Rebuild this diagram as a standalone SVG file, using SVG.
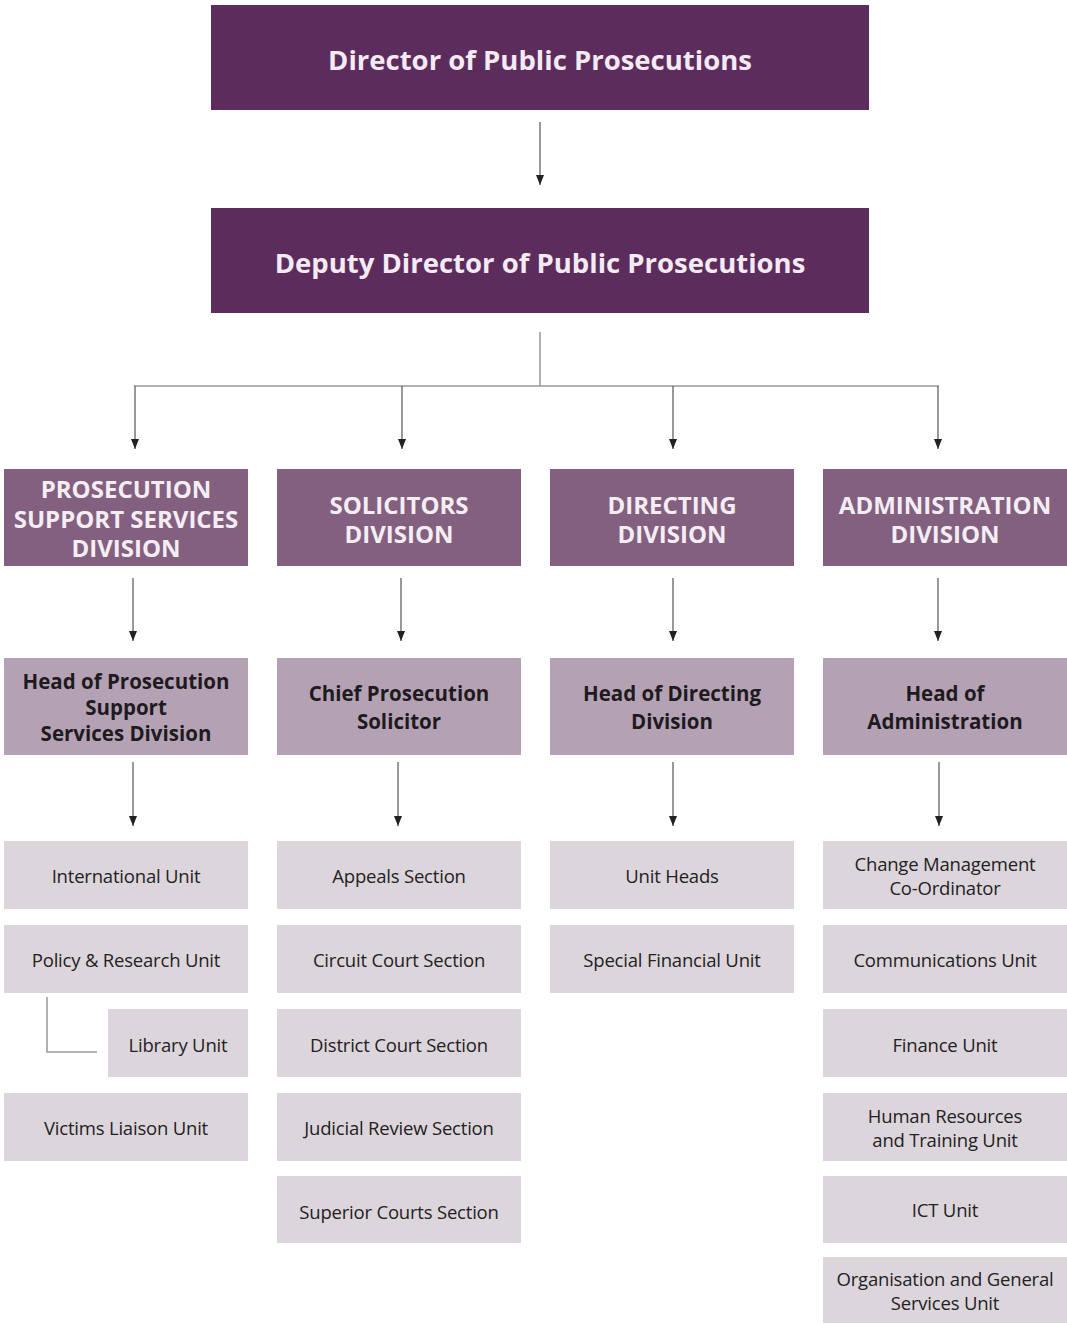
<svg xmlns="http://www.w3.org/2000/svg" width="1067" height="1324" viewBox="0 0 1067 1324">
<style>
.top{fill:#5c2d5c}
.div{fill:#83607f}
.head{fill:#b4a2b4}
.unit{fill:#ddd5dc}
.t1{font-family:"Open Sans","Noto Sans",sans-serif;font-weight:700;font-size:27.5px;fill:#f4eaf4;text-anchor:middle;dominant-baseline:central}
.t2{font-family:"Open Sans","Noto Sans",sans-serif;font-weight:700;font-size:24px;fill:#f4eef4;text-anchor:middle;dominant-baseline:central}
.t3{font-family:"Open Sans","Noto Sans",sans-serif;font-weight:700;font-size:20.5px;fill:#1e1a1e;text-anchor:middle;dominant-baseline:central}
.t4{font-family:"Open Sans","Noto Sans",sans-serif;font-weight:400;font-size:18.5px;fill:#222;text-anchor:middle;dominant-baseline:central;letter-spacing:-0.2px}
.ln{stroke:#555;stroke-width:1.2;fill:none}
.lg{stroke:#999;stroke-width:1.5;fill:none}
</style>
<defs>
<marker id="ah" markerWidth="10" markerHeight="8" refX="10" refY="4" orient="auto" markerUnits="userSpaceOnUse" viewBox="0 0 10 8">
<path d="M0,0 L10,4 L0,8 Z" fill="#222"/>
</marker>
</defs>
<rect width="1067" height="1324" fill="#fff"/>
<g id="connectors">
<line class="ln" x1="540" y1="122" x2="540" y2="185" marker-end="url(#ah)"/>
<line class="lg" x1="540" y1="332" x2="540" y2="386"/>
<line class="lg" x1="134" y1="386" x2="939" y2="386"/>
<line class="ln" x1="135" y1="386" x2="135" y2="449" marker-end="url(#ah)"/>
<line class="ln" x1="402" y1="386" x2="402" y2="449" marker-end="url(#ah)"/>
<line class="ln" x1="673" y1="386" x2="673" y2="449" marker-end="url(#ah)"/>
<line class="ln" x1="938" y1="386" x2="938" y2="449" marker-end="url(#ah)"/>
<line class="ln" x1="133" y1="578" x2="133" y2="641" marker-end="url(#ah)"/>
<line class="ln" x1="401" y1="578" x2="401" y2="641" marker-end="url(#ah)"/>
<line class="ln" x1="673" y1="578" x2="673" y2="641" marker-end="url(#ah)"/>
<line class="ln" x1="938" y1="578" x2="938" y2="641" marker-end="url(#ah)"/>
<line class="ln" x1="133" y1="762" x2="133" y2="826" marker-end="url(#ah)"/>
<line class="ln" x1="398" y1="762" x2="398" y2="826" marker-end="url(#ah)"/>
<line class="ln" x1="673" y1="762" x2="673" y2="826" marker-end="url(#ah)"/>
<line class="ln" x1="939" y1="762" x2="939" y2="826" marker-end="url(#ah)"/>
<polyline class="lg" points="47,997 47,1052 97,1052"/>
</g>
<g id="dpp"><rect class="top" x="211" y="5" width="658" height="105"/><text class="t1" x="540" y="59">Director of Public Prosecutions</text></g>
<g id="ddpp"><rect class="top" x="211" y="208" width="658" height="105"/><text class="t1" x="540" y="262">Deputy Director of Public Prosecutions</text></g>

<g id="pssd"><rect class="div" x="4" y="469" width="244" height="97"/><text class="t2" x="126" y="488">PROSECUTION</text><text class="t2" x="126" y="518">SUPPORT SERVICES</text><text class="t2" x="126" y="547">DIVISION</text></g>
<g id="sold"><rect class="div" x="277" y="469" width="244" height="97"/><text class="t2" x="399" y="504">SOLICITORS</text><text class="t2" x="399" y="533">DIVISION</text></g>
<g id="dird"><rect class="div" x="550" y="469" width="244" height="97"/><text class="t2" x="672" y="504">DIRECTING</text><text class="t2" x="672" y="533">DIVISION</text></g>
<g id="admd"><rect class="div" x="823" y="469" width="244" height="97"/><text class="t2" x="945" y="504">ADMINISTRATION</text><text class="t2" x="945" y="533">DIVISION</text></g>

<g id="hpssd"><rect class="head" x="4" y="658" width="244" height="97"/><text class="t3" x="126" y="681">Head of Prosecution</text><text class="t3" x="126" y="707">Support</text><text class="t3" x="126" y="733">Services Division</text></g>
<g id="cps"><rect class="head" x="277" y="658" width="244" height="97"/><text class="t3" x="399" y="693">Chief Prosecution</text><text class="t3" x="399" y="721">Solicitor</text></g>
<g id="hdd"><rect class="head" x="550" y="658" width="244" height="97"/><text class="t3" x="672" y="693">Head of Directing</text><text class="t3" x="672" y="721">Division</text></g>
<g id="ha"><rect class="head" x="823" y="658" width="244" height="97"/><text class="t3" x="945" y="693">Head of</text><text class="t3" x="945" y="721">Administration</text></g>

<g id="iu"><rect class="unit" x="4" y="841" width="244" height="68"/><text class="t4" x="126" y="875">International Unit</text></g>
<g id="pru"><rect class="unit" x="4" y="925" width="244" height="68"/><text class="t4" x="126" y="959">Policy &amp; Research Unit</text></g>
<g id="lu"><rect class="unit" x="108" y="1009" width="140" height="68"/><text class="t4" x="178" y="1044">Library Unit</text></g>
<g id="vlu"><rect class="unit" x="4" y="1093" width="244" height="68"/><text class="t4" x="126" y="1127">Victims Liaison Unit</text></g>

<g id="as"><rect class="unit" x="277" y="841" width="244" height="68"/><text class="t4" x="399" y="875">Appeals Section</text></g>
<g id="ccs"><rect class="unit" x="277" y="925" width="244" height="68"/><text class="t4" x="399" y="959">Circuit Court Section</text></g>
<g id="dcs"><rect class="unit" x="277" y="1009" width="244" height="68"/><text class="t4" x="399" y="1044">District Court Section</text></g>
<g id="jrs"><rect class="unit" x="277" y="1093" width="244" height="68"/><text class="t4" x="399" y="1127">Judicial Review Section</text></g>
<g id="scs"><rect class="unit" x="277" y="1176" width="244" height="67"/><text class="t4" x="399" y="1211">Superior Courts Section</text></g>

<g id="uh"><rect class="unit" x="550" y="841" width="244" height="68"/><text class="t4" x="672" y="875">Unit Heads</text></g>
<g id="sfu"><rect class="unit" x="550" y="925" width="244" height="68"/><text class="t4" x="672" y="959">Special Financial Unit</text></g>

<g id="cmc"><rect class="unit" x="823" y="841" width="244" height="68"/><text class="t4" x="945" y="863">Change Management</text><text class="t4" x="945" y="887">Co-Ordinator</text></g>
<g id="cu"><rect class="unit" x="823" y="925" width="244" height="68"/><text class="t4" x="945" y="959">Communications Unit</text></g>
<g id="fu"><rect class="unit" x="823" y="1009" width="244" height="68"/><text class="t4" x="945" y="1044">Finance Unit</text></g>
<g id="hrtu"><rect class="unit" x="823" y="1093" width="244" height="68"/><text class="t4" x="945" y="1115">Human Resources</text><text class="t4" x="945" y="1139">and Training Unit</text></g>
<g id="ictu"><rect class="unit" x="823" y="1176" width="244" height="67"/><text class="t4" x="945" y="1209">ICT Unit</text></g>
<g id="ogsu"><rect class="unit" x="823" y="1257" width="244" height="66"/><text class="t4" x="945" y="1278">Organisation and  General</text><text class="t4" x="945" y="1302">Services Unit</text></g>
</svg>
